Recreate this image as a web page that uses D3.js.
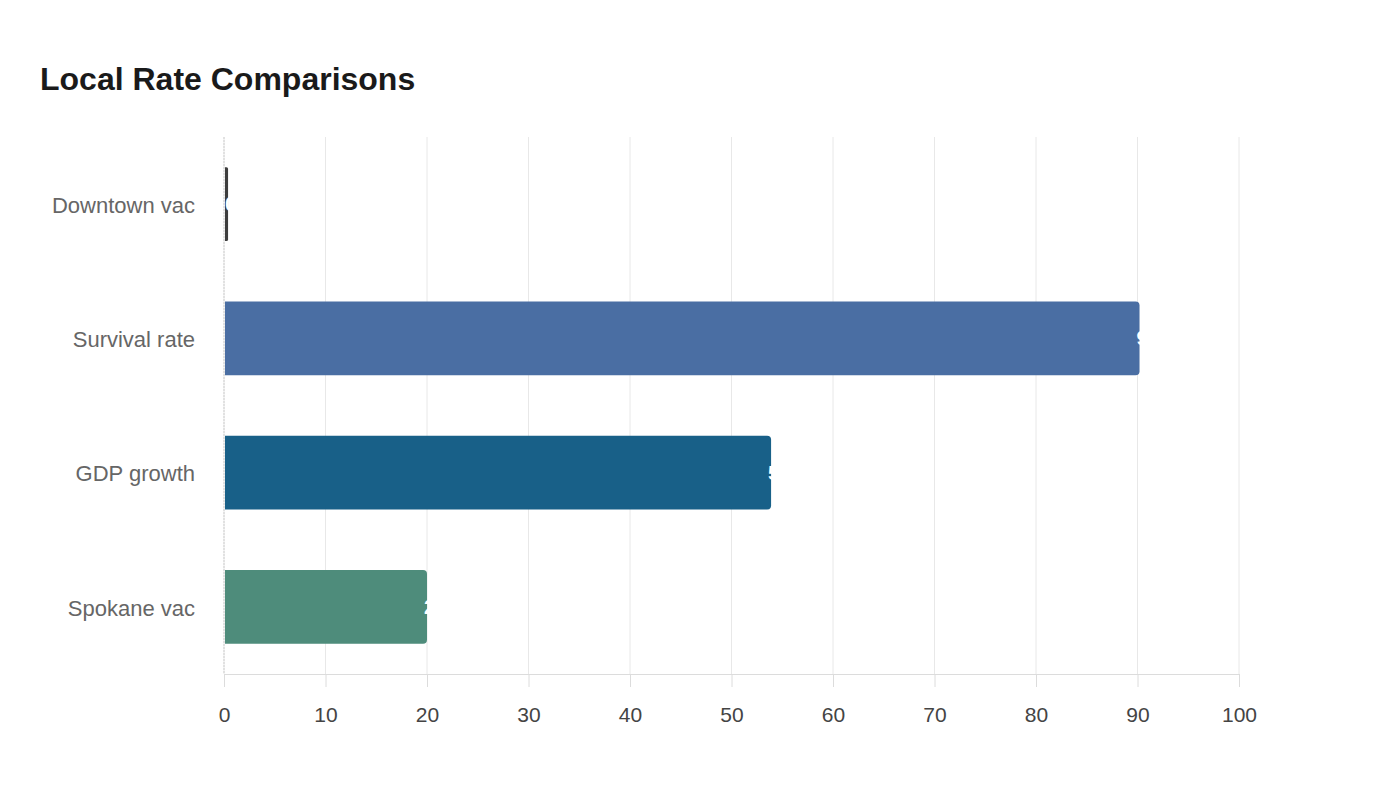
<!DOCTYPE html>
<html><head><meta charset="utf-8">
<script src="https://cdn.jsdelivr.net/npm/d3@7"></script>
<style>body{margin:0;background:#fff;font-family:"Liberation Sans",Arial,sans-serif;}</style>
</head><body>
<svg id="c" width="1400" height="800"></svg>
<script>
const categories = ["Downtown vac", "Survival rate", "GDP growth", "Spokane vac"];
const values = [0.4, 90.2, 53.9, 20.0];
const colors = ["#3d3d3d", "#4a6ea3", "#186088", "#4e8c7b"];
const ticks = [0,10,20,30,40,50,60,70,80,90,100];

const svg = d3.select("#c");
const m = {l:224, r:1239, t:137, b:674};
const x = d3.scaleLinear().domain([0,100]).range([m.l, m.r]);
const y = d3.scaleBand().domain(categories).range([m.t, m.b]).paddingInner(0.45).paddingOuter(0.225);

svg.append("text").attr("x",40).attr("y",90).text("Local Rate Comparisons")
  .attr("font-size",32).attr("font-weight","bold").attr("fill","#1a1a1a");

// grid
svg.append("g").selectAll("line").data(ticks).join("line")
  .attr("x1",d=>x(d)).attr("x2",d=>x(d)).attr("y1",m.t).attr("y2",m.b)
  .attr("stroke","#e8e8e8").attr("stroke-width",1);

// x axis
const xa = svg.append("g").attr("transform",`translate(0,${m.b})`)
  .call(d3.axisBottom(x).tickValues(ticks).tickSize(13).tickPadding(20));
xa.select(".domain").attr("stroke","#dcdcdc");
xa.selectAll(".tick line").attr("stroke","#dcdcdc");
xa.selectAll("text").attr("font-size",21).attr("fill","#444").attr("font-family","Liberation Sans, Arial, sans-serif");

// y axis
svg.append("line").attr("x1",m.l).attr("x2",m.l).attr("y1",m.t).attr("y2",m.b)
  .attr("stroke","#cfcfcf").attr("stroke-dasharray","2,1");
svg.append("g").selectAll("text").data(categories).join("text")
  .attr("x",195).attr("y",d=>y(d)+y.bandwidth()/2+1).attr("dy","0.35em")
  .attr("text-anchor","end").attr("font-size",22).attr("fill","#666").text(d=>d);

// bars with rounded right corners
function barPath(x0,x1,y0,h,r){
  const w=x1-x0; r=Math.min(r,w/2,h/2);
  return `M${x0},${y0}H${x1-r}Q${x1},${y0} ${x1},${y0+r}V${y0+h-r}Q${x1},${y0+h} ${x1-r},${y0+h}H${x0}Z`;
}
svg.append("g").selectAll("path").data(values).join("path")
  .attr("d",(d,i)=>barPath(x(0)+1, x(d), y(categories[i]), y.bandwidth(), 4))
  .attr("fill",(d,i)=>colors[i]);

// value labels (white, mostly past the bar end)
svg.append("g").selectAll("text").data(values).join("text")
  .attr("x",d=>x(d)-3).attr("y",(d,i)=>y(categories[i])+y.bandwidth()/2).attr("dy","0.35em")
  .attr("font-size",20).attr("font-weight","bold").attr("fill","#fff")
  .text(d=>d.toFixed(1));
</script>
</body></html>
